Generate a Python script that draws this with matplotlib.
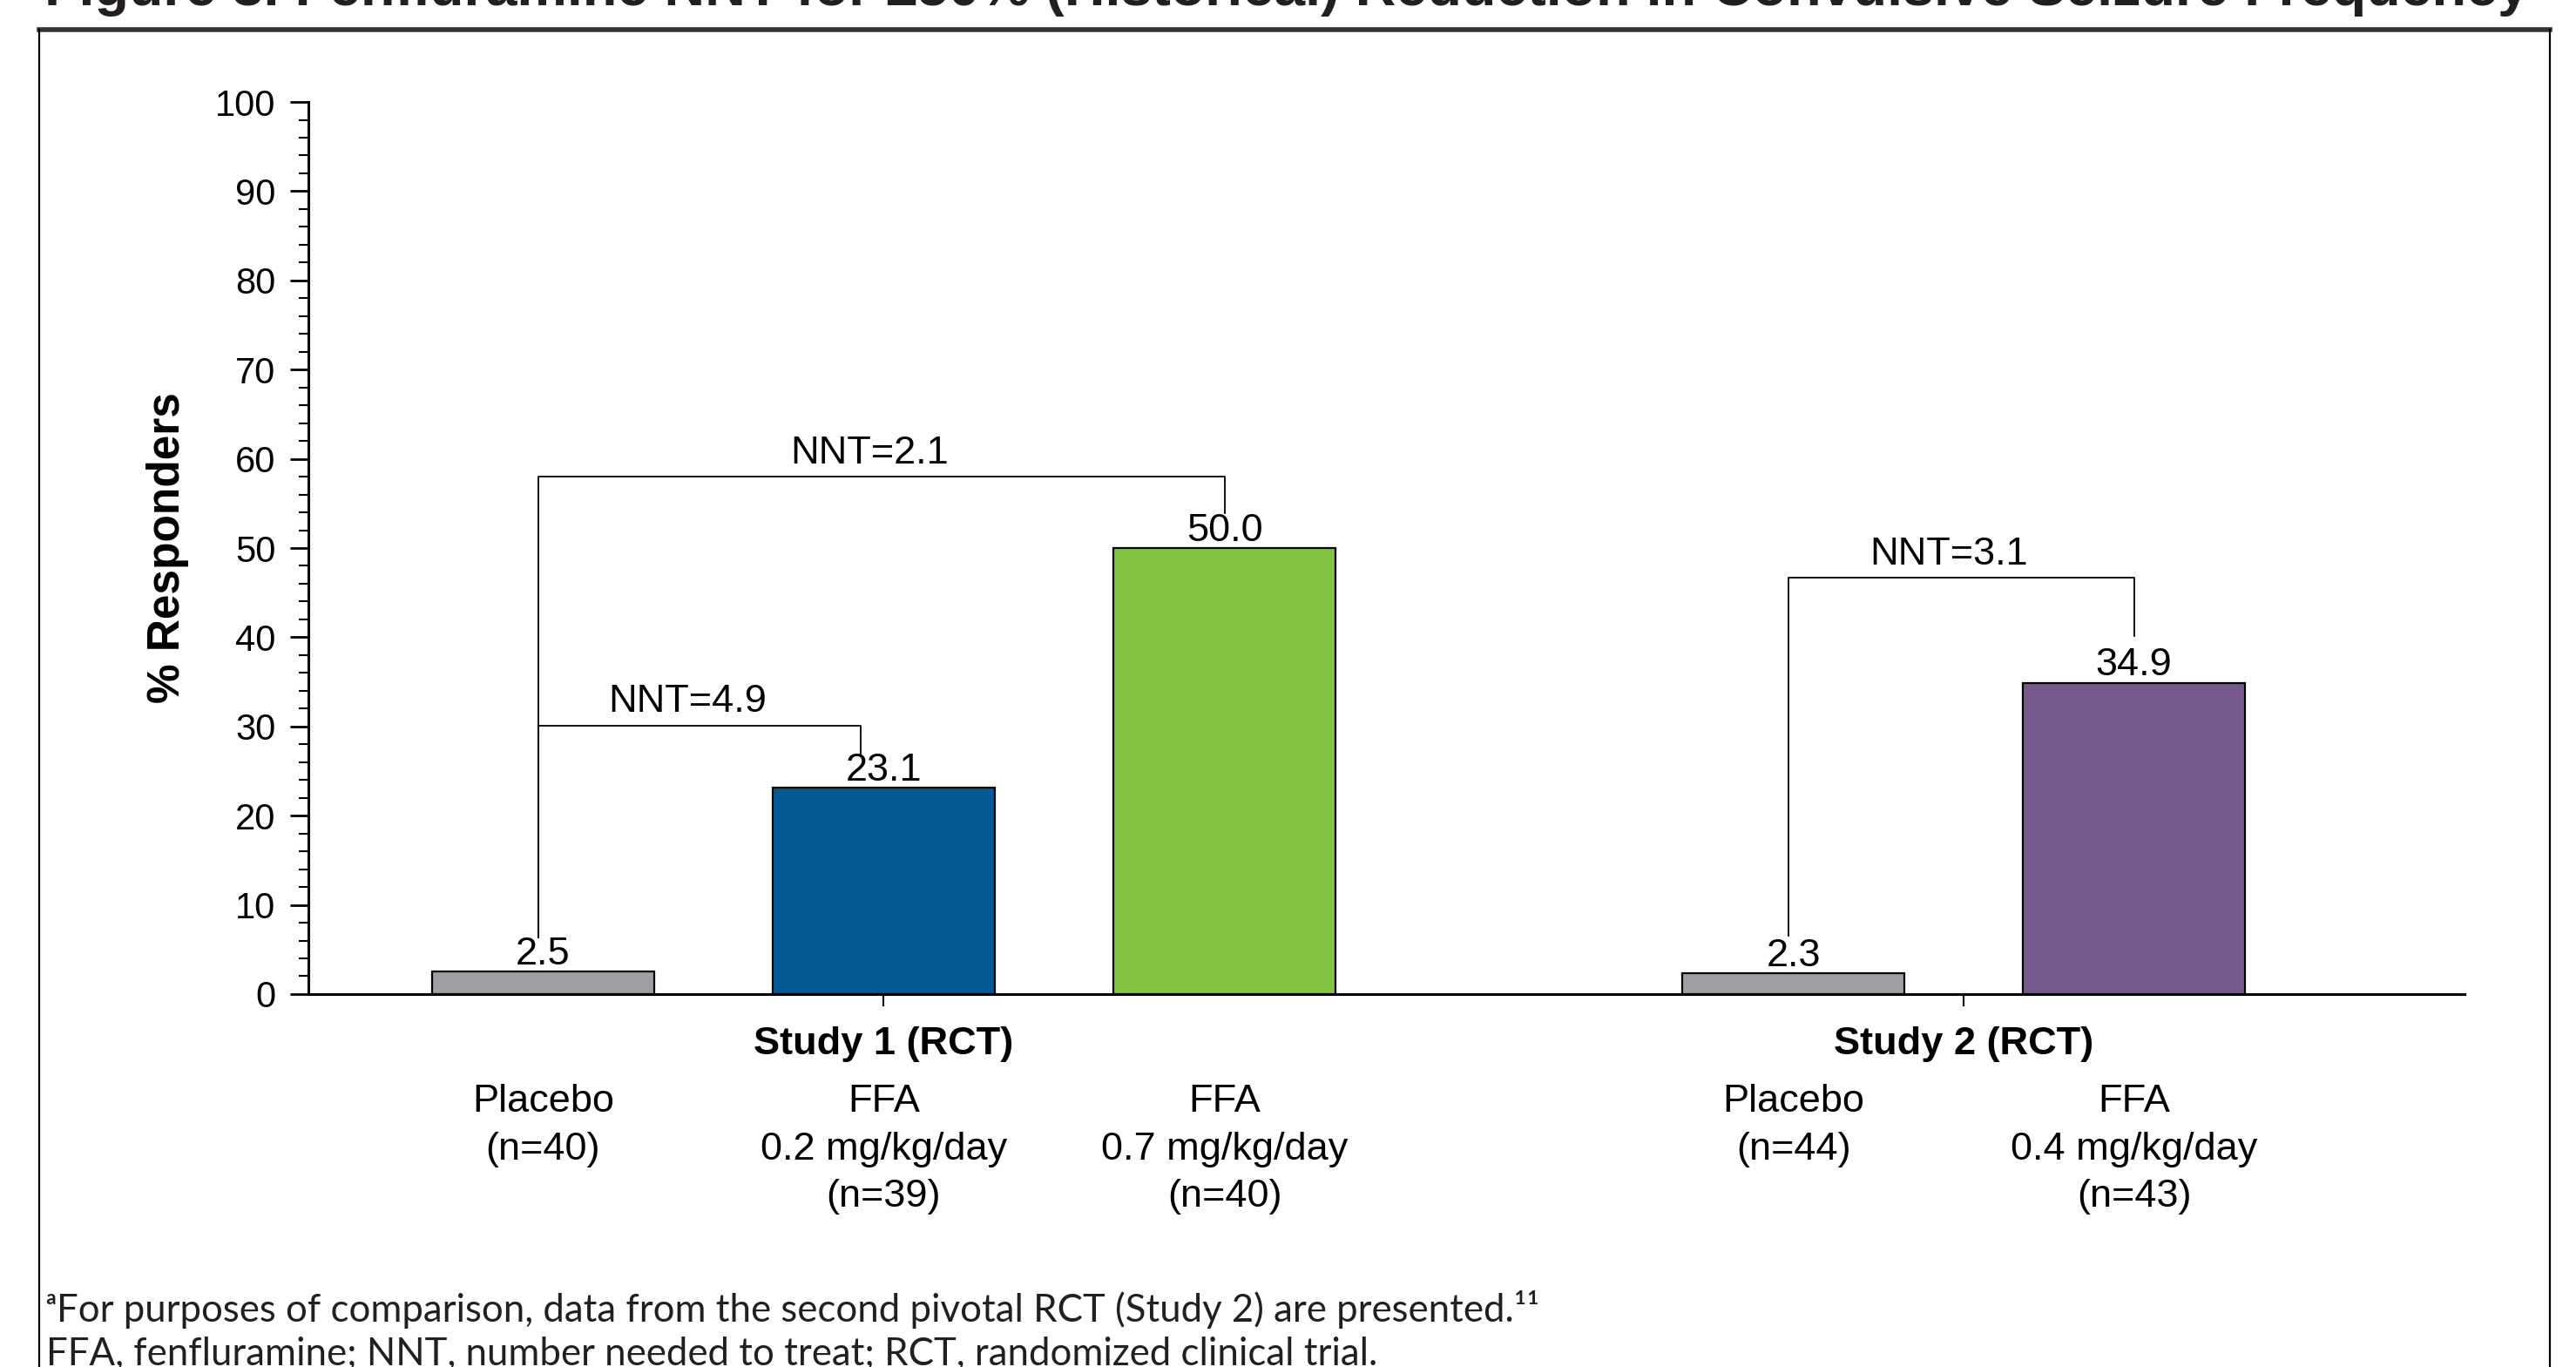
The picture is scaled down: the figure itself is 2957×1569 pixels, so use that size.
import numpy as np
import matplotlib.pyplot as plt
from matplotlib.lines import Line2D

# data
studies = ['Study 1 (RCT)', 'Study 2 (RCT)']
arm_labels = ['Placebo\n(n=40)', 'FFA\n0.2 mg/kg/day\n(n=39)', 'FFA\n0.7 mg/kg/day\n(n=40)',
              'Placebo\n(n=44)', 'FFA\n0.4 mg/kg/day\n(n=43)']
arm_study = [0, 0, 0, 1, 1]
responders = [2.5, 23.1, 50.0, 2.3, 34.9]
colors = ['#a19fa4', '#035a93', '#82c341', '#a19fa4', '#765a8e']

# NNT brackets: (from bar, to bar, label, bracket level, left end, right end)
nnt_from = [0, 0, 3]
nnt_to = [1, 2, 4]
nnt_text = ['NNT=4.9', 'NNT=2.1', 'NNT=3.1']
nnt_level = [30.1, 58.0, 46.7]
nnt_left_end = [6.3, 6.3, 6.5]
nnt_right_end = [27.0, 53.9, 40.1]

title = 'Figure 3. Fenfluramine NNT for \u226550% (Historical) Reduction in Convulsive Seizure Frequency'
foot1 = '\u1d43For purposes of comparison, data from the second pivotal RCT (Study 2) are presented.\u00b9\u00b9'
foot2 = 'FFA, fenfluramine; NNT, number needed to treat; RCT, randomized clinical trial.'

plt.rcParams['font.family'] = ['Liberation Sans', 'DejaVu Sans']

fig = plt.figure(figsize=(29.57, 15.69), dpi=100)
ax = fig.add_axes([0.1197, 0.2728, 0.8370, 0.6526])

# x layout: bars 1 unit apart inside a study, wider gap between studies
group_gap = 0.67
xpos = np.array([i + group_gap * s for i, s in enumerate(arm_study)], dtype=float)
width = 0.652

ax.bar(xpos, responders, width=width, color=colors, edgecolor='black', linewidth=1.6, zorder=3)
for x, v in zip(xpos, responders):
    ax.annotate(f'{v:.1f}', (x, v), xytext=(0, 6), textcoords='offset points',
                ha='center', va='baseline', fontsize=32.5)

# brackets
for a, b, t, lvl, le, re in zip(nnt_from, nnt_to, nnt_text, nnt_level, nnt_left_end, nnt_right_end):
    x0 = xpos[a] - 0.015
    x1 = xpos[b] - (0.067 if (a, b) == (0, 1) else 0.0)
    ax.plot([x0, x0, x1, x1], [le, lvl, lvl, re], color='black', lw=1.3, zorder=4)
    ax.annotate(t, ((x0 + x1) / 2 - 0.035, lvl), xytext=(0, 11), textcoords='offset points',
                ha='center', va='baseline', fontsize=32.5)

ax.set_xlim(-0.689, 5.64)
ax.set_ylim(0, 100)
ax.set_yticks(np.arange(0, 101, 10))
ax.set_yticks(np.arange(0, 101, 2), minor=True)
ax.tick_params(axis='y', which='major', length=15, width=2, labelsize=30, pad=12)
ax.tick_params(axis='y', which='minor', length=8, width=1.5)
study_x = [xpos[[i for i, s in enumerate(arm_study) if s == k]].mean() for k in range(len(studies))]
ax.set_xticks(study_x)
ax.set_xticklabels([])
ax.tick_params(axis='x', length=10, width=1.5)
for sp in ['top', 'right']:
    ax.spines[sp].set_visible(False)
ax.spines['left'].set_linewidth(2.2)
ax.spines['bottom'].set_linewidth(2.2)
ax.set_ylabel('% Responders', fontsize=37, fontweight='bold', labelpad=22)

tr = ax.get_xaxis_transform()
for x, s in zip(study_x, studies):
    ax.text(x, -0.0557, s, transform=tr, ha='center', va='center', fontsize=32.5, fontweight='bold')
for x, lab in zip(xpos, arm_labels):
    ax.text(x, -0.101, lab, transform=tr, ha='center', va='top', fontsize=32.5, linespacing=1.42)

# frame and title
fig.add_artist(Line2D([45 / 2957, 2927 / 2957], [1 - 34 / 1569] * 2, color='#333333', lw=4))
fig.add_artist(Line2D([45 / 2957] * 2, [0, 1 - 34 / 1569], color='black', lw=1.6))
fig.add_artist(Line2D([2927 / 2957] * 2, [0, 1 - 34 / 1569], color='black', lw=1.6))
fig.text(51 / 2957, 1 - 6 / 1569, title, ha='left', va='baseline', fontsize=46.5, fontweight='bold',
         color='#231f20')

fig.text(53 / 2957, 1 - 1503 / 1569, foot1, ha='left', va='center', fontsize=31.5,
         family=['Lato', 'DejaVu Sans'], color='#231f20')
fig.text(53 / 2957, 1 - 1554 / 1569, foot2, ha='left', va='center', fontsize=31.5,
         family=['Lato', 'DejaVu Sans'], color='#231f20')

fig.savefig('out.png', dpi=100)
